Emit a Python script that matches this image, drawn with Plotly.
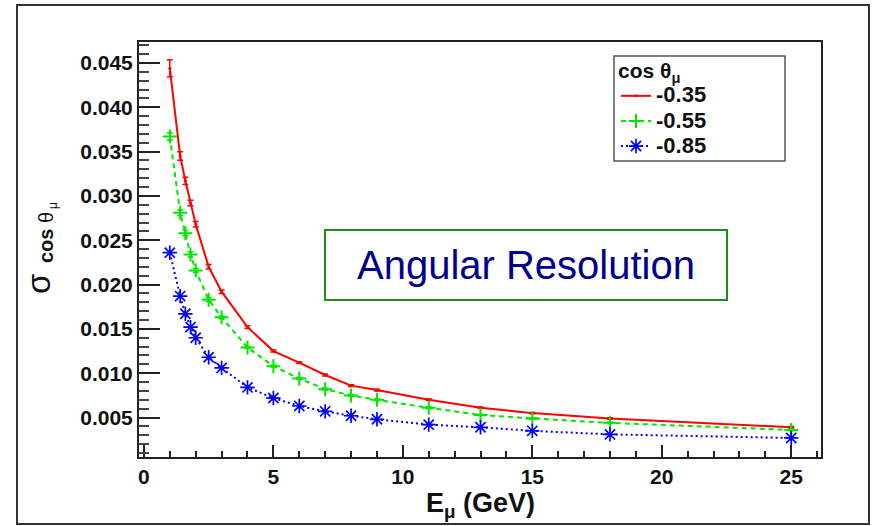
import plotly.graph_objects as go

# ---- data ----
energy = [1, 1.4, 1.6, 1.8, 2, 2.5, 3, 4, 5, 6, 7, 8, 9, 11, 13, 15, 18, 25]

res_035 = [0.0444, 0.0345, 0.0317, 0.0292, 0.0268, 0.0220, 0.0192, 0.0152, 0.0125,
           0.0112, 0.0098, 0.0086, 0.0081, 0.0070, 0.0061, 0.0055, 0.0049, 0.0039]
err_035 = [0.00095, 0.00047, 0.0004, 0.0003, 0.0003, 0.00025, 0.0002, 0.00015, 0.00012,
           0.0001, 0.0001, 0.0001, 0.0001, 0.00008, 0.00008, 0.00008, 0.00008, 0.00008]

res_055 = [0.0367, 0.0281, 0.0258, 0.0234, 0.0216, 0.0183, 0.0163, 0.0129, 0.0108,
           0.0094, 0.0082, 0.0075, 0.0070, 0.0061, 0.0053, 0.0049, 0.0044, 0.0036]
err_055 = [0.0004, 0.0003, 0.0003, 0.0003, 0.0002, 0.0002, 0.00015, 0.00012, 0.0001,
           0.0001, 0.0001, 0.0001, 0.0001, 0.00008, 0.00008, 0.00008, 0.00008, 0.00008]

res_085 = [0.0236, 0.0187, 0.0167, 0.0152, 0.0140, 0.0118, 0.0106, 0.0084, 0.0072,
           0.0063, 0.0057, 0.0052, 0.0048, 0.0042, 0.0039, 0.0035, 0.0031, 0.0027]

series_names = ["-0.35", "-0.55", "-0.85"]
x_ticks = [0, 5, 10, 15, 20, 25]
y_ticks = [0.005, 0.010, 0.015, 0.020, 0.025, 0.030, 0.035, 0.040, 0.045]

FONT = "Liberation Sans, Arial, Helvetica, sans-serif"

# plot-area geometry in pixels (for placing paper-referenced decorations)
L, R, T, B = 139, 821, 42, 457


def px(xp):
    return (xp - L) / (R - L)


def py(yp):
    return (B - yp) / (B - T)


def big(name):
    return '<span style="font-size:22px">' + name + '</span>'


fig = go.Figure()
fig.add_trace(go.Scatter(
    x=energy, y=res_035, name=big(series_names[0]), mode="lines+markers",
    line=dict(color="#ff0000", width=2),
    marker=dict(symbol="circle", size=3, color="#ff0000"),
    error_y=dict(type="data", array=err_035, color="#ff0000", thickness=1.5, width=3),
))
fig.add_trace(go.Scatter(
    x=energy, y=res_055, name=big(series_names[1]), mode="lines+markers",
    line=dict(color="#00e600", width=2, dash="5px,4px"),
    marker=dict(symbol="cross-thin-open", size=10, color="#00e600",
                line=dict(color="#00e600", width=2)),
    error_y=dict(type="data", array=err_055, color="#00e600", thickness=1.5, width=3),
))
fig.add_trace(go.Scatter(
    x=energy, y=res_085, name=big(series_names[2]), mode="lines+markers",
    line=dict(color="#0000ff", width=2, dash="2px,3px"),
    marker=dict(symbol="asterisk-open", size=12, color="#0000ff",
                line=dict(color="#0000ff", width=1.7)),
))

axis_common = dict(
    showgrid=False, zeroline=False, showline=True, linecolor="#222222",
    linewidth=2, mirror=True, ticks="inside", tickcolor="#222222",
    tickfont=dict(family=FONT, size=21, color="#111111", weight="bold"),
)

fig.update_xaxes(
    range=[-0.19, 26.15], tickvals=x_ticks, ticklen=12, tickwidth=1.5,
    minor=dict(ticks="inside", dtick=1, ticklen=6, tickcolor="#222222", tickwidth=1.5),
    **axis_common,
)
fig.update_yaxes(
    range=[0.00055, 0.04736], tickvals=y_ticks, tickformat=".3f",
    ticklen=21, tickwidth=1.5,
    minor=dict(ticks="inside", dtick=0.001, ticklen=10, tickcolor="#444444", tickwidth=1.5),
    **axis_common,
)

shapes = [
    # outer canvas frame
    dict(type="rect", xref="paper", yref="paper", x0=px(17), x1=px(869),
         y0=py(524), y1=py(5), line=dict(color="#333333", width=2)),
    # legend box
    dict(type="rect", xref="paper", yref="paper", x0=px(614), x1=px(785),
         y0=py(161), y1=py(56), line=dict(color="#555555", width=1.5),
         fillcolor="white", layer="below"),
    # label box
    dict(type="rect", xref="paper", yref="paper", x0=px(325), x1=px(727),
         y0=py(300), y1=py(230), line=dict(color="#1f8c1f", width=2)),
]

annotations = [
    dict(text="Angular Resolution", xref="paper", yref="paper", x=px(526), y=py(265),
         xanchor="center", yanchor="middle", showarrow=False,
         font=dict(family=FONT, size=40, color="#00008f")),
    dict(text="<b>E<sub>μ</sub> (GeV)</b>", xref="paper", yref="paper", x=px(480),
         y=py(505), xanchor="center", yanchor="middle", showarrow=False,
         font=dict(family=FONT, size=27, color="#111111")),
    dict(text="σ", xref="paper", yref="paper", x=px(38), y=py(284),
         xanchor="center", yanchor="middle", textangle=-90, showarrow=False,
         font=dict(family=FONT, size=33, color="#111111")),
    dict(text="<b>cos</b> θ", xref="paper", yref="paper", x=px(46), y=py(238),
         xanchor="center", yanchor="middle", textangle=-90, showarrow=False,
         font=dict(family=FONT, size=20, color="#111111")),
    dict(text="μ", xref="paper", yref="paper", x=px(53), y=py(206),
         xanchor="center", yanchor="middle", textangle=-90, showarrow=False,
         font=dict(family=FONT, size=12, color="#111111")),
]

fig.update_layout(
    width=875, height=526,
    margin=dict(l=L, r=875 - R, t=T, b=526 - B),
    paper_bgcolor="white", plot_bgcolor="white",
    showlegend=True,
    legend=dict(
        x=px(616), y=py(51), xanchor="left", yanchor="top",
        bgcolor="rgba(0,0,0,0)", borderwidth=0, itemwidth=30,
        title=dict(text="<b>cos</b> θ<sub>μ</sub>",
                   font=dict(family=FONT, size=21, color="#111111")),
        font=dict(family=FONT, size=17, color="#111111", weight="bold"),
        tracegroupgap=0,
    ),
    shapes=shapes, annotations=annotations,
)

fig.write_html("out.html", config={"displayModeBar": False},
               post_script="document.body.style.margin='0px';")
